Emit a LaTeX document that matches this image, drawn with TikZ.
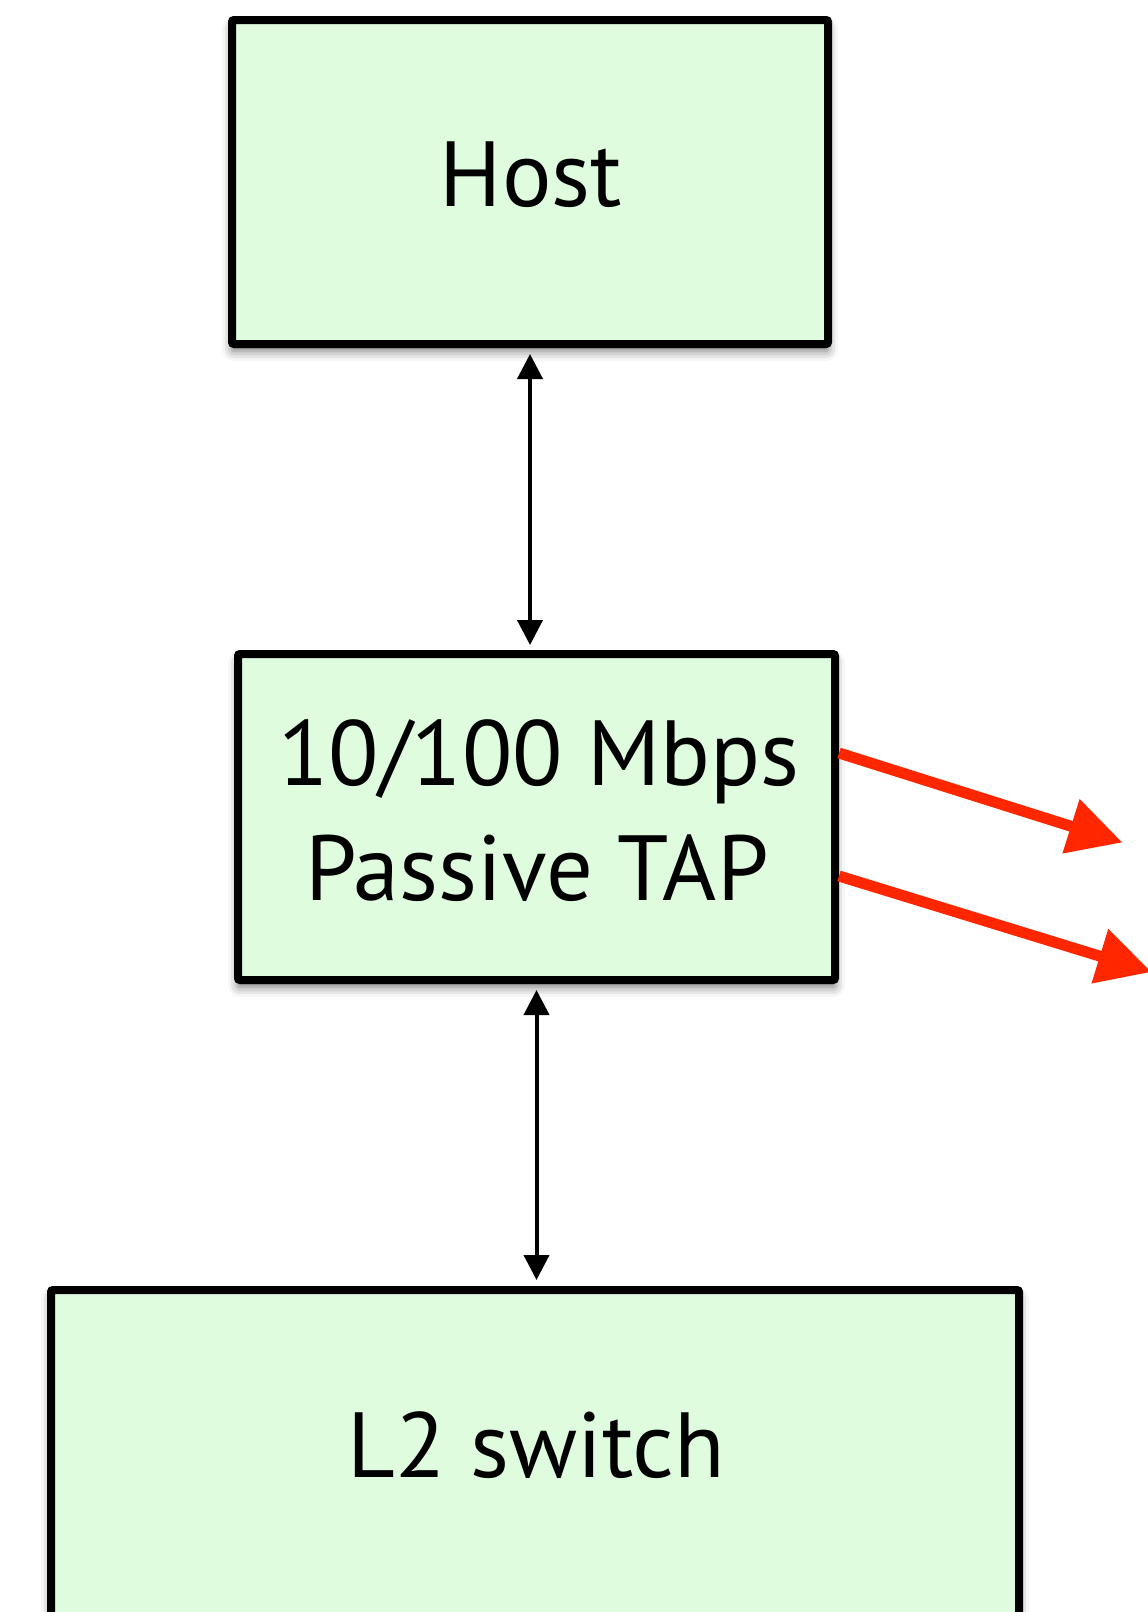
\documentclass[tikz,border=0pt]{standalone}
\usepackage{fontspec}
\setmainfont{PT Sans}
\usetikzlibrary{arrows.meta,shadows.blur}
\definecolor{boxfill}{RGB}{223,252,223}
\definecolor{tapred}{RGB}{255,38,0}
\begin{document}
\begin{tikzpicture}[x=1pt,y=-1pt,
  box/.style={draw=black, fill=boxfill, line width=8pt, rounded corners=2pt, inner sep=0pt,
    blur shadow={shadow xshift=0pt, shadow yshift=-7pt, shadow blur radius=10pt, shadow opacity=55}},
  lbl/.style={font=\fontsize{92.5}{110}\selectfont, anchor=base, inner sep=0pt},
  link/.style={draw=black, line width=4pt, {Triangle[length=25pt,width=25pt]}-{Triangle[length=25pt,width=25pt]}},
  tapout/.style={draw=tapred, line width=11pt, -{Triangle[length=54pt,width=54pt]}}]
\useasboundingbox (0,0) rectangle (1148,1612);
\clip (0,0) rectangle (1148,1612);
\node[box, minimum width=596pt, minimum height=324pt] (host) at (530,182) {};
\node[box, minimum width=597pt, minimum height=326pt] (tap) at (536.5,817) {};
\node[box, minimum width=968pt, minimum height=400pt] (l2) at (535,1490) {};
\node[lbl] (hostt) at (531,206) {Host};
\node[lbl] (tapt1) at (539,785) {10/100 Mbps};
\node[lbl] (tapt2) at (537,900.5) {Passive TAP};
\node[lbl] (l2t) at (536,1477) {L2 switch};
\draw[link, shorten <=6pt, shorten >=5pt] (host.south) -- (host.south |- tap.north);
\draw[link, shorten <=6pt, shorten >=6pt] (tap.south) -- (tap.south |- l2.north);
\coordinate (e1) at (1122.5,842.5);
\coordinate (e2) at (1151.5,972);
\draw[tapout] ([yshift=64pt]tap.east) -- (e1);
\draw[tapout] ([yshift=-59pt]tap.east) -- (e2);
\end{tikzpicture}
\end{document}
